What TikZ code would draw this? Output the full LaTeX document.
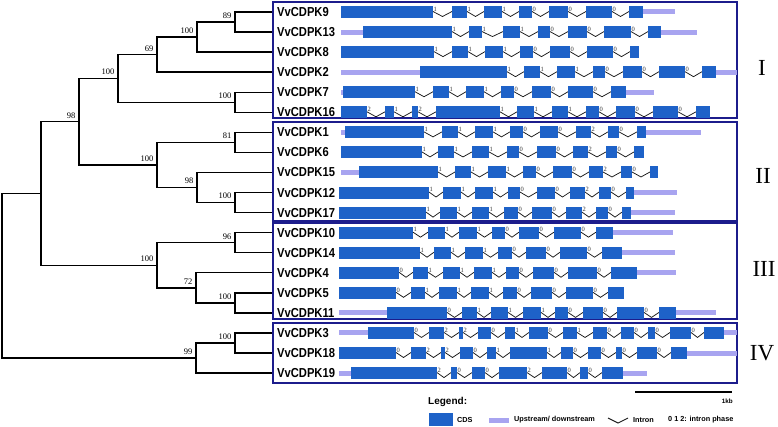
\documentclass[tikz,border=0pt]{standalone}
\usepackage{fontspec}
\usepackage{graphicx}
\setmainfont{Liberation Serif}
\newfontfamily\arialf{Liberation Sans}
\usetikzlibrary{calc}
\definecolor{cdsblue}{RGB}{30,98,200}
\definecolor{utrlav}{RGB}{168,164,240}
\definecolor{boxnavy}{RGB}{28,28,140}
\newcommand\glab[1]{\scalebox{0.86}[1]{\arialf\bfseries\fontsize{13}{13}\selectfont #1}}
\newcommand\utr[3]{\fill[utrlav] (#2,#1-2.5) rectangle (#3,#1+2.5);}
\newcommand\exonrow[2]{%
  \foreach \xs/\xe/\xp [remember=\xe as \lastE (initially 0)] in {#2} {%
    \ifnum\lastE>0 \draw[intronline] (\lastE,#1-0.5) -- ({(\lastE+\xs)/2},#1+4.5) -- (\xs,#1-0.5);\fi
    \fill[cdsblue] (\xs,#1-6) rectangle (\xe,#1+6);
    \node[phaselab] at (\xe,#1) {\xp};
  }%
}
\tikzset{
  tree/.style={line width=1.4pt, black},
  intronline/.style={line width=0.75pt, black!90},
  phaselab/.style={anchor=south west, inner sep=0.2pt, xshift=0.2pt, yshift=0.3pt, font=\fontsize{6.5}{6.5}\selectfont, text=black!80},
  genename/.style={anchor=west, inner sep=0pt},
  bs/.style={anchor=south east, inner sep=0pt, xshift=-3.5pt, yshift=3.3pt, font=\fontsize{8.5}{8.5}\selectfont},
  grpbox/.style={draw=boxnavy, line width=2pt},
  roman/.style={font=\fontsize{23}{23}\selectfont},
  legtxt/.style={anchor=west, inner sep=0pt, font=\arialf\bfseries\fontsize{7.3}{7.3}\selectfont},
}
\begin{document}
\begin{tikzpicture}[x=1pt,y=-1pt]
\useasboundingbox (0,0) rectangle (778,427);
% leaves
\foreach \i/\yy in {1/12,2/32.06,3/52.12,4/72.18,5/92.24,6/112.3,7/132.36,8/152.42,9/172.48,10/192.54,11/212.6,12/232.66,13/252.72,14/272.78,15/292.84,16/312.9,17/332.96,18/353.02,19/373.08}
  {\coordinate (l\i) at (272,\yy);}
% internal nodes
\coordinate (nA) at (235,22.03);
\coordinate (nB) at (197,37.08);
\coordinate (nC) at (157,54.63);
\coordinate (nD) at (235,102.27);
\coordinate (nE) at (118,78.45);
\coordinate (nF) at (235,142.39);
\coordinate (nG) at (235,202.57);
\coordinate (nH) at (197,187.53);
\coordinate (nI) at (157,164.96);
\coordinate (nJ) at (79,121.7);
\coordinate (nL) at (235,242.69);
\coordinate (nM) at (235,302.87);
\coordinate (nN) at (196,287.83);
\coordinate (nO) at (157,265.26);
\coordinate (nK) at (41,193.48);
\coordinate (nP) at (235,342.99);
\coordinate (nQ) at (196,358.04);
\coordinate (nR) at (2,275.76);
\draw[tree] (l1) -| (nA) |- (l2);
\draw[tree] (nA) -| (nB) |- (l3);
\draw[tree] (nB) -| (nC) |- (l4);
\draw[tree] (l5) -| (nD) |- (l6);
\draw[tree] (nC) -| (nE) |- (nD);
\draw[tree] (l7) -| (nF) |- (l8);
\draw[tree] (l10) -| (nG) |- (l11);
\draw[tree] (l9) -| (nH) |- (nG);
\draw[tree] (nF) -| (nI) |- (nH);
\draw[tree] (nE) -| (nJ) |- (nI);
\draw[tree] (l12) -| (nL) |- (l13);
\draw[tree] (l15) -| (nM) |- (l16);
\draw[tree] (l14) -| (nN) |- (nM);
\draw[tree] (nL) -| (nO) |- (nN);
\draw[tree] (nJ) -| (nK) |- (nO);
\draw[tree] (l17) -| (nP) |- (l18);
\draw[tree] (nP) -| (nQ) |- (l19);
\draw[tree] (nK) -| (nR) |- (nQ);
% bootstrap values
\node[bs] (bA) at (nA) {89};
\node[bs] (bB) at (nB) {100};
\node[bs] (bC) at (nC) {69};
\node[bs] (bD) at (nD) {100};
\node[bs] (bE) at (nE) {100};
\node[bs] (bF) at (nF) {81};
\node[bs] (bG) at (nG) {100};
\node[bs] (bH) at (nH) {98};
\node[bs] (bI) at (nI) {100};
\node[bs] (bJ) at (nJ) {98};
\node[bs] (bL) at (nL) {96};
\node[bs] (bM) at (nM) {100};
\node[bs] (bN) at (nN) {72};
\node[bs] (bO) at (nO) {100};
\node[bs] (bP) at (nP) {100};
\node[bs] (bQ) at (nQ) {99};
% group boxes
\draw[grpbox] (273,2) rectangle (737,118);
\draw[grpbox] (273,122) rectangle (737,221);
\draw[grpbox] (273,223) rectangle (737,319);
\draw[grpbox] (273,323) rectangle (737,383);
\node[roman] (rI) at (762,68) {I};
\node[roman] (rII) at (763,176) {II};
\node[roman] (rIII) at (764,269) {III};
\node[roman] (rIV) at (762,353) {IV};
% gene names
\node[genename] (g9)  at (277,12)     {\glab{VvCDPK9}};
\node[genename] (g13) at (277,32.06)  {\glab{VvCDPK13}};
\node[genename] (g8)  at (277,52.12)  {\glab{VvCDPK8}};
\node[genename] (g2)  at (277,72.18)  {\glab{VvCDPK2}};
\node[genename] (g7)  at (277,92.24)  {\glab{VvCDPK7}};
\node[genename] (g16) at (277,112.3)  {\glab{VvCDPK16}};
\node[genename] (g1)  at (277,132.36) {\glab{VvCDPK1}};
\node[genename] (g6)  at (277,152.42) {\glab{VvCDPK6}};
\node[genename] (g15) at (277,172.48) {\glab{VvCDPK15}};
\node[genename] (g12) at (277,192.54) {\glab{VvCDPK12}};
\node[genename] (g17) at (277,212.6)  {\glab{VvCDPK17}};
\node[genename] (g10) at (277,232.66) {\glab{VvCDPK10}};
\node[genename] (g14) at (277,252.72) {\glab{VvCDPK14}};
\node[genename] (g4)  at (277,272.78) {\glab{VvCDPK4}};
\node[genename] (g5)  at (277,292.84) {\glab{VvCDPK5}};
\node[genename] (g11) at (277,312.9)  {\glab{VvCDPK11}};
\node[genename] (g3)  at (277,332.96) {\glab{VvCDPK3}};
\node[genename] (g18) at (277,353.02) {\glab{VvCDPK18}};
\node[genename] (g19) at (277,373.08) {\glab{VvCDPK19}};
% gene structures
\utr{12}{643}{675}
\exonrow{12}{341/433/1,452/467/1,484/502/1,519/532/0,549/568/0,586/612/0,629/643/{}}
\utr{32.06}{341}{363}\utr{32.06}{661}{697}
\exonrow{32.06}{363/452/1,469/482/1,503/520/1,538/550/0,568/587/0,604/631/0,648/661/{}}
\exonrow{52.12}{341/434/1,452/468/1,485/503/1,520/533/0,550/570/0,587/613/0,630/639/{}}
\utr{72.18}{341}{420}\utr{72.18}{716}{737}
\exonrow{72.18}{420/507/1,524/540/1,557/575/1,593/605/0,623/642/0,659/685/0,702/716/{}}
\utr{92.24}{341}{343}\utr{92.24}{626}{654}
\exonrow{92.24}{343/415/1,433/449/1,466/484/1,501/514/0,532/551/0,568/593/0,611/626/{}}
\exonrow{112.3}{341/367/2,385/394/1,412/418/2,436/500/1,517/534/1,552/568/1,586/599/0,616/635/0,653/678/0,696/710/{}}
\utr{132.36}{341}{345}\utr{132.36}{646}{701}
\exonrow{132.36}{345/424/1,442/458/1,475/493/1,510/523/0,540/558/0,576/591/2,608/619/0,637/646/{}}
\exonrow{152.42}{341/422/1,438/454/1,472/489/1,507/519/0,537/556/0,573/588/2,606/617/0,634/644/{}}
\utr{172.48}{341}{359}
\exonrow{172.48}{359/438/1,455/471/1,488/506/1,523/536/0,553/572/0,589/603/2,621/632/0,650/658/{}}
\utr{192.54}{634}{677}
\exonrow{192.54}{339/429/1,443/461/1,475/493/1,508/520/0,537/555/0,570/585/2,599/611/0,626/634/{}}
\utr{212.6}{631}{675}
\exonrow{212.6}{339/426/1,440/457/1,472/489/1,504/518/0,532/552/0,566/582/2,596/608/0,622/631/{}}
\utr{232.66}{613}{673}
\exonrow{232.66}{339/413/1,428/445/1,459/477/1,492/505/0,519/539/0,554/581/0,596/613/{}}
\utr{252.72}{622}{675}
\exonrow{252.72}{339/420/1,434/451/1,465/483/1,498/512/0,526/546/0,560/587/0,602/622/{}}
\utr{272.78}{637}{676}
\exonrow{272.78}{339/399/0,413/428/1,443/460/1,474/492/1,506/519/0,533/554/0,568/597/0,611/637/{}}
\exonrow{292.84}{339/396/0,411/425/1,439/457/1,471/489/1,503/517/0,531/552/0,566/593/0,608/624/{}}
\utr{312.9}{339}{387}\utr{312.9}{676}{716}
\exonrow{312.9}{387/447/0,462/477/1,491/508/1,523/541/1,555/568/0,583/603/0,617/644/0,659/676/{}}
\utr{332.96}{339}{368}\utr{332.96}{724}{737}
\exonrow{332.96}{368/414/0,429/444/2,459/463/2,478/491/0,505/515/1,529/548/0,563/577/1,593/607/0,621/634/0,648/655/0,670/691/0,704/724/{}}
\utr{353.02}{687}{737}
\exonrow{353.02}{339/396/0,411/426/2,441/445/2,460/473/0,487/496/1,510/547/1,561/573/0,588/601/0,616/622/0,637/657/0,671/687/{}}
\utr{373.08}{339}{351}\utr{373.08}{623}{647}
\exonrow{373.08}{351/437/2,451/457/0,472/485/0,499/527/2,542/567/0,580/588/0,602/623/{}}
% scale bar
\coordinate (sb1) at (635,392);
\coordinate (sb2) at (732,392);
\draw[line width=1.5pt] (sb1) -- (sb2);
\node[legtxt, anchor=east, font=\arialf\bfseries\fontsize{6.3}{6.3}\selectfont] (kb) at (733,401) {1kb};
% legend
\node[anchor=west, inner sep=0pt, font=\arialf\bfseries\fontsize{10}{10}\selectfont] (legT) at (428,402) {Legend:};
\fill[cdsblue] (429,413) rectangle (453,426);
\node[legtxt] (legC) at (457,420) {CDS};
\fill[utrlav] (489,417.5) rectangle (509,422.5);
\node[legtxt] (legU) at (514,420) {Upstream/ downstream};
\coordinate (in1) at (608,418);
\coordinate (in2) at (618,423);
\coordinate (in3) at (628,418);
\draw[intronline, line width=0.9pt] (in1) -- (in2) -- (in3);
\node[legtxt] (legI) at (633,420) {Intron};
\node[legtxt] (legP) at (668,420) {0 1 2: intron phase};
\end{tikzpicture}
\end{document}
